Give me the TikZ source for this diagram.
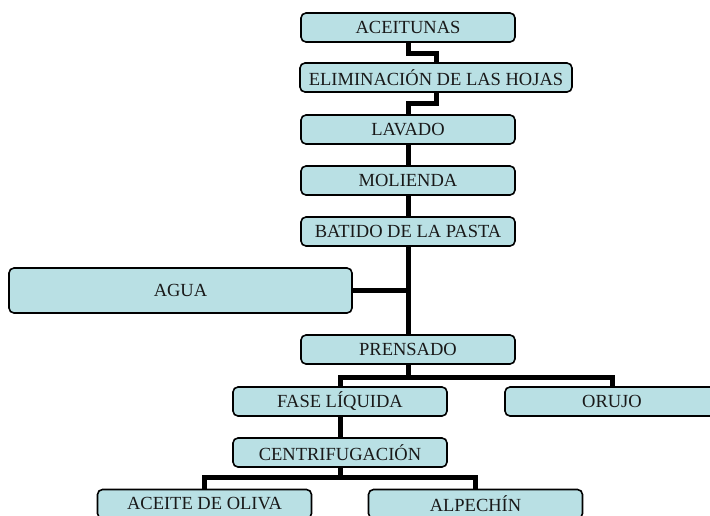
\documentclass[tikz,border=0pt]{standalone}
\usepackage{fontspec}
\setmainfont{Liberation Serif}
\usetikzlibrary{backgrounds}
\definecolor{boxfill}{RGB}{185,224,228}
\begin{document}
\begin{tikzpicture}[x=1pt,y=-1pt,
  stepbox/.style={draw=black, line width=1.6pt, fill=boxfill, rounded corners=5pt,
    inner sep=0pt, minimum width=214pt, minimum height=29pt,
    font=\fontsize{18.5}{20}\selectfont, text=black!90},
  conn/.style={draw=black, line width=5pt, line join=miter}]
\useasboundingbox (0,0) rectangle (710,515);
\node[stepbox] (aceitunas) at (408,27.5) {ACEITUNAS};
\node[stepbox, minimum width=272pt] (elim) at (436,77.5) {ELIMINACIÓN DE LAS HOJAS};
\node[stepbox] (lavado) at (408,129.5) {LAVADO};
\node[stepbox] (molienda) at (408,180.5) {MOLIENDA};
\node[stepbox] (batido) at (408,231.5) {BATIDO DE LA PASTA};
\node[stepbox, minimum width=343pt, minimum height=45pt] (agua) at (180.5,290.5) {AGUA};
\node[stepbox] (prensado) at (408,349.5) {PRENSADO};
\node[stepbox] (fase) at (340,401.5) {FASE LÍQUIDA};
\node[stepbox] (orujo) at (612,401.5) {ORUJO};
\node[stepbox] (centrif) at (340,452.5) {CENTRIFUGACIÓN};
\node[stepbox] (aceite) at (204.5,504) {ACEITE DE OLIVA};
\node[stepbox] (alpechin) at (475.5,504) {ALPECHÍN};
\coordinate (l1) at (0,53);
\coordinate (l2) at (0,103);
\coordinate (l3) at (0,377);
\coordinate (l4) at (0,477);
\begin{scope}[on background layer]
\draw[conn] (aceitunas.south) -- (aceitunas.south |- l1) -| (elim.north);
\draw[conn] (elim.south) -- (elim.south |- l2) -| (lavado.north);
\draw[conn] (lavado.south) -- (molienda.north);
\draw[conn] (molienda.south) -- (batido.north);
\draw[conn] (batido.south) -- (prensado.north);
\draw[conn] (agua.east) -- (agua.east -| batido.south);
\draw[conn] (prensado.south) -- (prensado.south |- l3) -| (fase.north);
\draw[conn] (prensado.south |- l3) -| (orujo.north);
\draw[conn] (fase.south) -- (centrif.north);
\draw[conn] (centrif.south) -- (centrif.south |- l4) -| (aceite.north);
\draw[conn] (centrif.south |- l4) -| (alpechin.north);
\end{scope}
\end{tikzpicture}
\end{document}
